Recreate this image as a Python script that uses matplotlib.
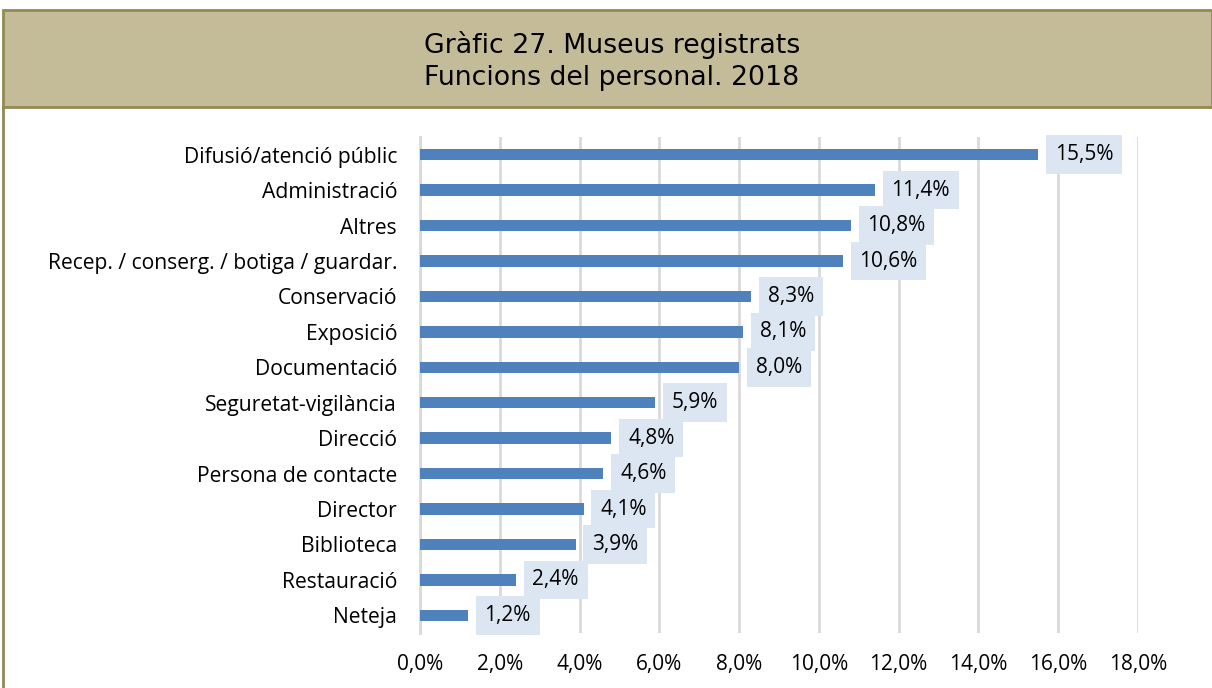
import matplotlib.pyplot as plt
from matplotlib.patches import Rectangle
from matplotlib.lines import Line2D
from matplotlib.ticker import FuncFormatter

categories = ["Difusió/atenció públic", "Administració", "Altres",
              "Recep. / conserg. / botiga / guardar.", "Conservació", "Exposició",
              "Documentació", "Seguretat-vigilància", "Direcció", "Persona de contacte",
              "Director", "Biblioteca", "Restauració", "Neteja"]
values = [15.5, 11.4, 10.8, 10.6, 8.3, 8.1, 8.0, 5.9, 4.8, 4.6, 4.1, 3.9, 2.4, 1.2]
xticks = [0, 2, 4, 6, 8, 10, 12, 14, 16, 18]

plt.rcParams['font.family'] = ['Open Sans', 'DejaVu Sans']

fig = plt.figure(figsize=(12.12, 6.88), dpi=100)

# header band
fig.patches.append(Rectangle((3/1212, 1-107/688), 1-3/1212, 97/688, transform=fig.transFigure,
                             facecolor="#C4BC98", edgecolor="#938953", linewidth=2))
fig.lines.append(Line2D([3/1212, 3/1212], [0, 1-107/688], transform=fig.transFigure,
                        color="#938953", linewidth=2))
fig.text(0.5+6/1212, 1-61/688, "Gràfic 27. Museus registrats\nFuncions del personal. 2018",
         ha="center", va="center", fontsize=19.3, family="DejaVu Sans", linespacing=1.3)

ax = fig.add_axes([420/1212, 1-633/688, 718/1212, 496/688])
y = list(range(len(categories)))
ax.barh(y, values, height=0.32, color="#4F81BD", zorder=3)
ax.set_ylim(len(categories)-0.5, -0.5)
ax.set_xlim(0, 18)
ax.set_yticks(y)
ax.set_yticklabels(categories, fontsize=15.2)
ax.set_xticks(xticks)
ax.xaxis.set_major_formatter(FuncFormatter(lambda v, p: f"{v:.1f}%".replace(".", ",")))
ax.tick_params(axis="x", labelsize=15, length=0, pad=15)
ax.tick_params(axis="y", length=0, pad=16.5)
ax.grid(axis="x", color="#D9D9D9", linewidth=2, zorder=0)
for s in ["top", "right", "bottom"]:
    ax.spines[s].set_visible(False)
ax.spines["left"].set_color("#D9D9D9")
ax.spines["left"].set_linewidth(2)

for i, v in enumerate(values):
    ax.annotate(f"{v:.1f}%".replace(".", ","), (v, i), xytext=(12, 0), textcoords="offset points",
                ha="left", va="center", fontsize=15, zorder=4,
                bbox=dict(boxstyle="square,pad=0.42", facecolor="#DCE6F2", edgecolor="none"))

fig.savefig("out.png", dpi=100)
